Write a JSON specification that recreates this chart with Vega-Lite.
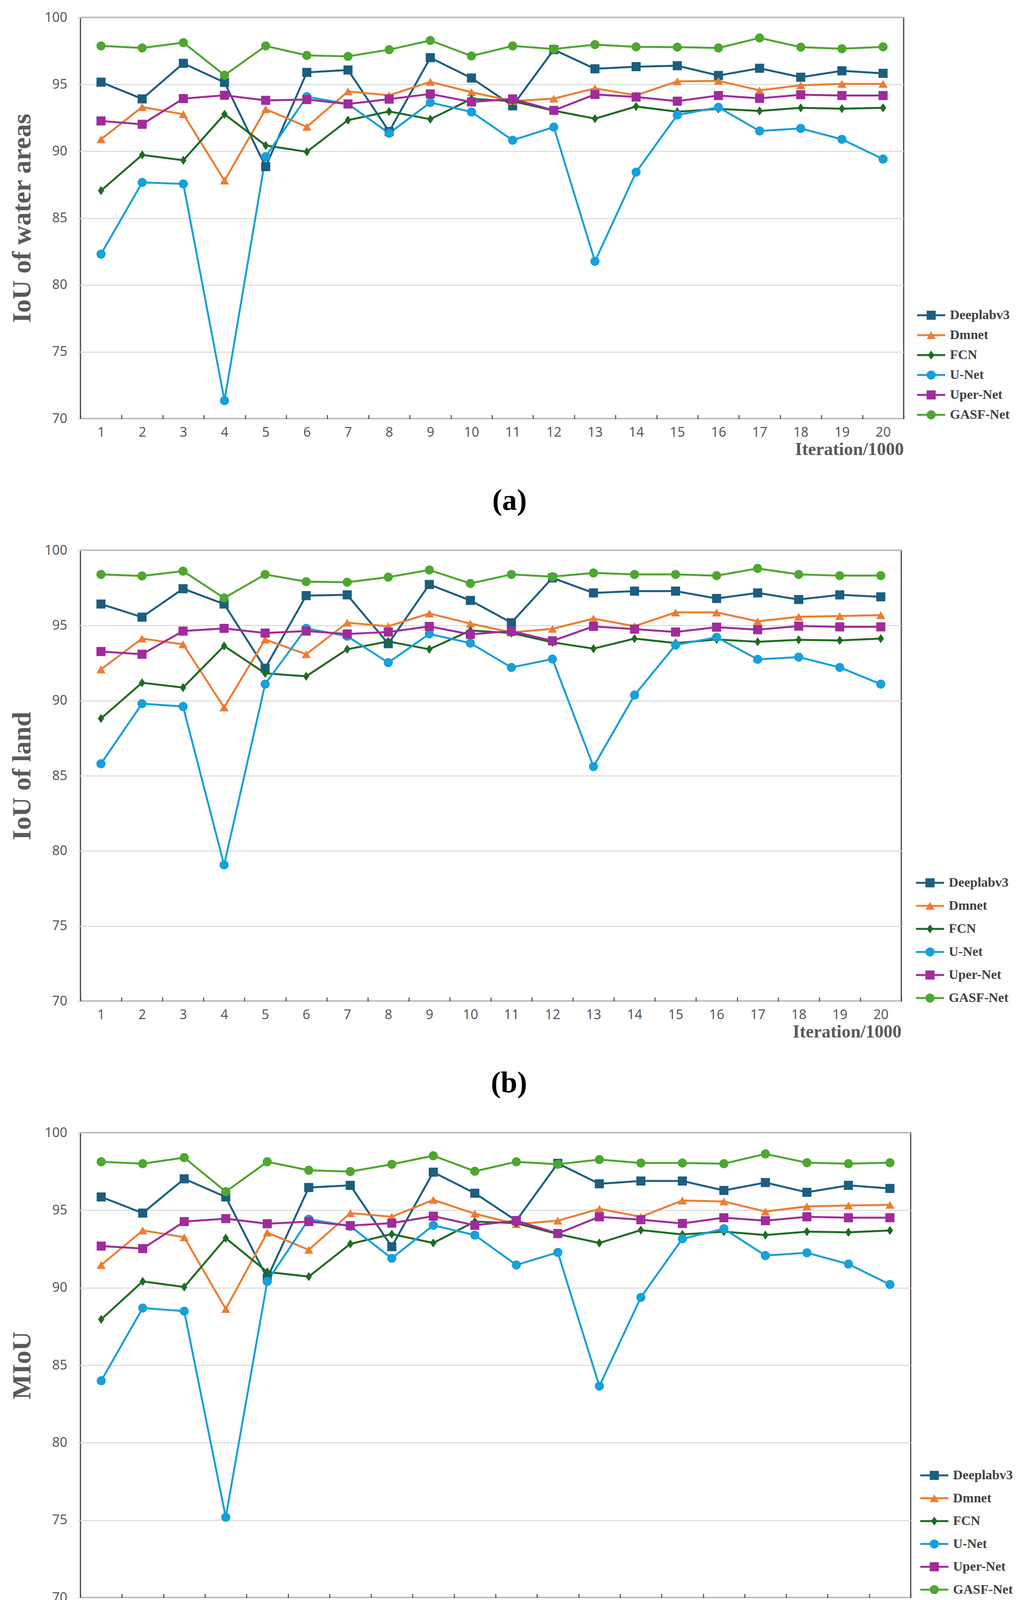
{
  "$schema": "https://vega.github.io/schema/vega-lite/v6.json",
  "background": "white",
  "padding": {"left": 22, "top": 26, "right": 10, "bottom": 10},
  "spacing": 68,
  "resolve": {
    "scale": {"color": "independent", "shape": "independent", "stroke": "independent"},
    "legend": {"color": "independent", "shape": "independent", "stroke": "independent"}
  },
  "datasets": {
    "a": [
      {"m":"Deeplabv3","i":1,"v":95.17},{"m":"Deeplabv3","i":2,"v":93.92},{"m":"Deeplabv3","i":3,"v":96.58},{"m":"Deeplabv3","i":4,"v":95.15},{"m":"Deeplabv3","i":5,"v":88.85},
      {"m":"Deeplabv3","i":6,"v":95.90},{"m":"Deeplabv3","i":7,"v":96.08},{"m":"Deeplabv3","i":8,"v":91.48},{"m":"Deeplabv3","i":9,"v":97.00},{"m":"Deeplabv3","i":10,"v":95.48},
      {"m":"Deeplabv3","i":11,"v":93.40},{"m":"Deeplabv3","i":12,"v":97.60},{"m":"Deeplabv3","i":13,"v":96.17},{"m":"Deeplabv3","i":14,"v":96.33},{"m":"Deeplabv3","i":15,"v":96.40},
      {"m":"Deeplabv3","i":16,"v":95.67},{"m":"Deeplabv3","i":17,"v":96.21},{"m":"Deeplabv3","i":18,"v":95.54},{"m":"Deeplabv3","i":19,"v":96.02},{"m":"Deeplabv3","i":20,"v":95.83},
      {"m":"Dmnet","i":1,"v":90.90},{"m":"Dmnet","i":2,"v":93.31},{"m":"Dmnet","i":3,"v":92.77},{"m":"Dmnet","i":4,"v":87.81},{"m":"Dmnet","i":5,"v":93.15},
      {"m":"Dmnet","i":6,"v":91.83},{"m":"Dmnet","i":7,"v":94.48},{"m":"Dmnet","i":8,"v":94.19},{"m":"Dmnet","i":9,"v":95.19},{"m":"Dmnet","i":10,"v":94.42},
      {"m":"Dmnet","i":11,"v":93.75},{"m":"Dmnet","i":12,"v":93.94},{"m":"Dmnet","i":13,"v":94.71},{"m":"Dmnet","i":14,"v":94.19},{"m":"Dmnet","i":15,"v":95.23},
      {"m":"Dmnet","i":16,"v":95.27},{"m":"Dmnet","i":17,"v":94.56},{"m":"Dmnet","i":18,"v":94.94},{"m":"Dmnet","i":19,"v":95.04},{"m":"Dmnet","i":20,"v":95.04},
      {"m":"FCN","i":1,"v":87.06},{"m":"FCN","i":2,"v":89.73},{"m":"FCN","i":3,"v":89.33},{"m":"FCN","i":4,"v":92.77},{"m":"FCN","i":5,"v":90.44},
      {"m":"FCN","i":6,"v":89.96},{"m":"FCN","i":7,"v":92.33},{"m":"FCN","i":8,"v":92.98},{"m":"FCN","i":9,"v":92.40},{"m":"FCN","i":10,"v":93.92},
      {"m":"FCN","i":11,"v":93.75},{"m":"FCN","i":12,"v":93.04},{"m":"FCN","i":13,"v":92.44},{"m":"FCN","i":14,"v":93.35},{"m":"FCN","i":15,"v":92.96},
      {"m":"FCN","i":16,"v":93.17},{"m":"FCN","i":17,"v":93.02},{"m":"FCN","i":18,"v":93.25},{"m":"FCN","i":19,"v":93.19},{"m":"FCN","i":20,"v":93.25},
      {"m":"U-Net","i":1,"v":82.31},{"m":"U-Net","i":2,"v":87.67},{"m":"U-Net","i":3,"v":87.56},{"m":"U-Net","i":4,"v":71.36},{"m":"U-Net","i":5,"v":89.60},
      {"m":"U-Net","i":6,"v":94.08},{"m":"U-Net","i":7,"v":93.54},{"m":"U-Net","i":8,"v":91.35},{"m":"U-Net","i":9,"v":93.65},{"m":"U-Net","i":10,"v":92.94},
      {"m":"U-Net","i":11,"v":90.83},{"m":"U-Net","i":12,"v":91.81},{"m":"U-Net","i":13,"v":81.77},{"m":"U-Net","i":14,"v":88.44},{"m":"U-Net","i":15,"v":92.71},
      {"m":"U-Net","i":16,"v":93.29},{"m":"U-Net","i":17,"v":91.52},{"m":"U-Net","i":18,"v":91.71},{"m":"U-Net","i":19,"v":90.90},{"m":"U-Net","i":20,"v":89.42},
      {"m":"Uper-Net","i":1,"v":92.27},{"m":"Uper-Net","i":2,"v":92.02},{"m":"Uper-Net","i":3,"v":93.94},{"m":"Uper-Net","i":4,"v":94.19},{"m":"Uper-Net","i":5,"v":93.81},
      {"m":"Uper-Net","i":6,"v":93.87},{"m":"Uper-Net","i":7,"v":93.54},{"m":"Uper-Net","i":8,"v":93.90},{"m":"Uper-Net","i":9,"v":94.29},{"m":"Uper-Net","i":10,"v":93.69},
      {"m":"Uper-Net","i":11,"v":93.92},{"m":"Uper-Net","i":12,"v":93.06},{"m":"Uper-Net","i":13,"v":94.25},{"m":"Uper-Net","i":14,"v":94.06},{"m":"Uper-Net","i":15,"v":93.75},
      {"m":"Uper-Net","i":16,"v":94.17},{"m":"Uper-Net","i":17,"v":93.96},{"m":"Uper-Net","i":18,"v":94.23},{"m":"Uper-Net","i":19,"v":94.17},{"m":"Uper-Net","i":20,"v":94.17},
      {"m":"GASF-Net","i":1,"v":97.88},{"m":"GASF-Net","i":2,"v":97.73},{"m":"GASF-Net","i":3,"v":98.13},{"m":"GASF-Net","i":4,"v":95.69},{"m":"GASF-Net","i":5,"v":97.88},
      {"m":"GASF-Net","i":6,"v":97.17},{"m":"GASF-Net","i":7,"v":97.10},{"m":"GASF-Net","i":8,"v":97.60},{"m":"GASF-Net","i":9,"v":98.29},{"m":"GASF-Net","i":10,"v":97.13},
      {"m":"GASF-Net","i":11,"v":97.88},{"m":"GASF-Net","i":12,"v":97.65},{"m":"GASF-Net","i":13,"v":97.98},{"m":"GASF-Net","i":14,"v":97.81},{"m":"GASF-Net","i":15,"v":97.79},
      {"m":"GASF-Net","i":16,"v":97.73},{"m":"GASF-Net","i":17,"v":98.48},{"m":"GASF-Net","i":18,"v":97.79},{"m":"GASF-Net","i":19,"v":97.67},{"m":"GASF-Net","i":20,"v":97.81}
    ],
    "b": [
      {"m":"Deeplabv3","i":1,"v":96.43},{"m":"Deeplabv3","i":2,"v":95.56},{"m":"Deeplabv3","i":3,"v":97.45},{"m":"Deeplabv3","i":4,"v":96.43},{"m":"Deeplabv3","i":5,"v":92.16},
      {"m":"Deeplabv3","i":6,"v":96.99},{"m":"Deeplabv3","i":7,"v":97.04},{"m":"Deeplabv3","i":8,"v":93.79},{"m":"Deeplabv3","i":9,"v":97.73},{"m":"Deeplabv3","i":10,"v":96.67},
      {"m":"Deeplabv3","i":11,"v":95.19},{"m":"Deeplabv3","i":12,"v":98.17},{"m":"Deeplabv3","i":13,"v":97.17},{"m":"Deeplabv3","i":14,"v":97.29},{"m":"Deeplabv3","i":15,"v":97.29},
      {"m":"Deeplabv3","i":16,"v":96.80},{"m":"Deeplabv3","i":17,"v":97.17},{"m":"Deeplabv3","i":18,"v":96.73},{"m":"Deeplabv3","i":19,"v":97.04},{"m":"Deeplabv3","i":20,"v":96.91},
      {"m":"Dmnet","i":1,"v":92.08},{"m":"Dmnet","i":2,"v":94.13},{"m":"Dmnet","i":3,"v":93.75},{"m":"Dmnet","i":4,"v":89.55},{"m":"Dmnet","i":5,"v":94.07},
      {"m":"Dmnet","i":6,"v":93.09},{"m":"Dmnet","i":7,"v":95.19},{"m":"Dmnet","i":8,"v":94.95},{"m":"Dmnet","i":9,"v":95.80},{"m":"Dmnet","i":10,"v":95.13},
      {"m":"Dmnet","i":11,"v":94.54},{"m":"Dmnet","i":12,"v":94.78},{"m":"Dmnet","i":13,"v":95.46},{"m":"Dmnet","i":14,"v":94.96},{"m":"Dmnet","i":15,"v":95.87},
      {"m":"Dmnet","i":16,"v":95.87},{"m":"Dmnet","i":17,"v":95.28},{"m":"Dmnet","i":18,"v":95.58},{"m":"Dmnet","i":19,"v":95.63},{"m":"Dmnet","i":20,"v":95.69},
      {"m":"FCN","i":1,"v":88.81},{"m":"FCN","i":2,"v":91.19},{"m":"FCN","i":3,"v":90.87},{"m":"FCN","i":4,"v":93.64},{"m":"FCN","i":5,"v":91.82},
      {"m":"FCN","i":6,"v":91.62},{"m":"FCN","i":7,"v":93.42},{"m":"FCN","i":8,"v":93.94},{"m":"FCN","i":9,"v":93.42},{"m":"FCN","i":10,"v":94.67},
      {"m":"FCN","i":11,"v":94.50},{"m":"FCN","i":12,"v":93.88},{"m":"FCN","i":13,"v":93.46},{"m":"FCN","i":14,"v":94.13},{"m":"FCN","i":15,"v":93.83},
      {"m":"FCN","i":16,"v":94.07},{"m":"FCN","i":17,"v":93.92},{"m":"FCN","i":18,"v":94.05},{"m":"FCN","i":19,"v":94.01},{"m":"FCN","i":20,"v":94.13},
      {"m":"U-Net","i":1,"v":85.80},{"m":"U-Net","i":2,"v":89.80},{"m":"U-Net","i":3,"v":89.61},{"m":"U-Net","i":4,"v":79.07},{"m":"U-Net","i":5,"v":91.10},
      {"m":"U-Net","i":6,"v":94.81},{"m":"U-Net","i":7,"v":94.29},{"m":"U-Net","i":8,"v":92.53},{"m":"U-Net","i":9,"v":94.44},{"m":"U-Net","i":10,"v":93.83},
      {"m":"U-Net","i":11,"v":92.21},{"m":"U-Net","i":12,"v":92.77},{"m":"U-Net","i":13,"v":85.61},{"m":"U-Net","i":14,"v":90.37},{"m":"U-Net","i":15,"v":93.70},
      {"m":"U-Net","i":16,"v":94.22},{"m":"U-Net","i":17,"v":92.75},{"m":"U-Net","i":18,"v":92.90},{"m":"U-Net","i":19,"v":92.21},{"m":"U-Net","i":20,"v":91.10},
      {"m":"Uper-Net","i":1,"v":93.27},{"m":"Uper-Net","i":2,"v":93.09},{"m":"Uper-Net","i":3,"v":94.63},{"m":"Uper-Net","i":4,"v":94.81},{"m":"Uper-Net","i":5,"v":94.50},
      {"m":"Uper-Net","i":6,"v":94.63},{"m":"Uper-Net","i":7,"v":94.44},{"m":"Uper-Net","i":8,"v":94.57},{"m":"Uper-Net","i":9,"v":94.94},{"m":"Uper-Net","i":10,"v":94.41},
      {"m":"Uper-Net","i":11,"v":94.63},{"m":"Uper-Net","i":12,"v":93.98},{"m":"Uper-Net","i":13,"v":94.94},{"m":"Uper-Net","i":14,"v":94.76},{"m":"Uper-Net","i":15,"v":94.57},
      {"m":"Uper-Net","i":16,"v":94.89},{"m":"Uper-Net","i":17,"v":94.72},{"m":"Uper-Net","i":18,"v":94.96},{"m":"Uper-Net","i":19,"v":94.91},{"m":"Uper-Net","i":20,"v":94.91},
      {"m":"GASF-Net","i":1,"v":98.40},{"m":"GASF-Net","i":2,"v":98.30},{"m":"GASF-Net","i":3,"v":98.62},{"m":"GASF-Net","i":4,"v":96.83},{"m":"GASF-Net","i":5,"v":98.40},
      {"m":"GASF-Net","i":6,"v":97.92},{"m":"GASF-Net","i":7,"v":97.88},{"m":"GASF-Net","i":8,"v":98.22},{"m":"GASF-Net","i":9,"v":98.70},{"m":"GASF-Net","i":10,"v":97.80},
      {"m":"GASF-Net","i":11,"v":98.40},{"m":"GASF-Net","i":12,"v":98.25},{"m":"GASF-Net","i":13,"v":98.50},{"m":"GASF-Net","i":14,"v":98.40},{"m":"GASF-Net","i":15,"v":98.40},
      {"m":"GASF-Net","i":16,"v":98.32},{"m":"GASF-Net","i":17,"v":98.80},{"m":"GASF-Net","i":18,"v":98.40},{"m":"GASF-Net","i":19,"v":98.32},{"m":"GASF-Net","i":20,"v":98.32}
    ],
    "c": [
      {"m":"Deeplabv3","i":1,"v":95.86},{"m":"Deeplabv3","i":2,"v":94.82},{"m":"Deeplabv3","i":3,"v":97.03},{"m":"Deeplabv3","i":4,"v":95.86},{"m":"Deeplabv3","i":5,"v":90.62},
      {"m":"Deeplabv3","i":6,"v":96.47},{"m":"Deeplabv3","i":7,"v":96.61},{"m":"Deeplabv3","i":8,"v":92.65},{"m":"Deeplabv3","i":9,"v":97.46},{"m":"Deeplabv3","i":10,"v":96.10},
      {"m":"Deeplabv3","i":11,"v":94.33},{"m":"Deeplabv3","i":12,"v":98.03},{"m":"Deeplabv3","i":13,"v":96.71},{"m":"Deeplabv3","i":14,"v":96.89},{"m":"Deeplabv3","i":15,"v":96.89},
      {"m":"Deeplabv3","i":16,"v":96.28},{"m":"Deeplabv3","i":17,"v":96.79},{"m":"Deeplabv3","i":18,"v":96.16},{"m":"Deeplabv3","i":19,"v":96.61},{"m":"Deeplabv3","i":20,"v":96.41},
      {"m":"Dmnet","i":1,"v":91.47},{"m":"Dmnet","i":2,"v":93.70},{"m":"Dmnet","i":3,"v":93.26},{"m":"Dmnet","i":4,"v":88.63},{"m":"Dmnet","i":5,"v":93.56},
      {"m":"Dmnet","i":6,"v":92.45},{"m":"Dmnet","i":7,"v":94.82},{"m":"Dmnet","i":8,"v":94.58},{"m":"Dmnet","i":9,"v":95.67},{"m":"Dmnet","i":10,"v":94.78},
      {"m":"Dmnet","i":11,"v":94.11},{"m":"Dmnet","i":12,"v":94.33},{"m":"Dmnet","i":13,"v":95.09},{"m":"Dmnet","i":14,"v":94.58},{"m":"Dmnet","i":15,"v":95.63},
      {"m":"Dmnet","i":16,"v":95.57},{"m":"Dmnet","i":17,"v":94.92},{"m":"Dmnet","i":18,"v":95.25},{"m":"Dmnet","i":19,"v":95.31},{"m":"Dmnet","i":20,"v":95.35},
      {"m":"FCN","i":1,"v":87.96},{"m":"FCN","i":2,"v":90.41},{"m":"FCN","i":3,"v":90.05},{"m":"FCN","i":4,"v":93.20},{"m":"FCN","i":5,"v":91.02},
      {"m":"FCN","i":6,"v":90.72},{"m":"FCN","i":7,"v":92.83},{"m":"FCN","i":8,"v":93.46},{"m":"FCN","i":9,"v":92.89},{"m":"FCN","i":10,"v":94.27},
      {"m":"FCN","i":11,"v":94.17},{"m":"FCN","i":12,"v":93.46},{"m":"FCN","i":13,"v":92.89},{"m":"FCN","i":14,"v":93.72},{"m":"FCN","i":15,"v":93.44},
      {"m":"FCN","i":16,"v":93.62},{"m":"FCN","i":17,"v":93.40},{"m":"FCN","i":18,"v":93.62},{"m":"FCN","i":19,"v":93.58},{"m":"FCN","i":20,"v":93.70},
      {"m":"U-Net","i":1,"v":84.00},{"m":"U-Net","i":2,"v":88.69},{"m":"U-Net","i":3,"v":88.49},{"m":"U-Net","i":4,"v":75.19},{"m":"U-Net","i":5,"v":90.41},
      {"m":"U-Net","i":6,"v":94.42},{"m":"U-Net","i":7,"v":93.97},{"m":"U-Net","i":8,"v":91.90},{"m":"U-Net","i":9,"v":94.03},{"m":"U-Net","i":10,"v":93.40},
      {"m":"U-Net","i":11,"v":91.47},{"m":"U-Net","i":12,"v":92.28},{"m":"U-Net","i":13,"v":83.65},{"m":"U-Net","i":14,"v":89.38},{"m":"U-Net","i":15,"v":93.16},
      {"m":"U-Net","i":16,"v":93.81},{"m":"U-Net","i":17,"v":92.08},{"m":"U-Net","i":18,"v":92.26},{"m":"U-Net","i":19,"v":91.53},{"m":"U-Net","i":20,"v":90.21},
      {"m":"Uper-Net","i":1,"v":92.69},{"m":"Uper-Net","i":2,"v":92.53},{"m":"Uper-Net","i":3,"v":94.27},{"m":"Uper-Net","i":4,"v":94.46},{"m":"Uper-Net","i":5,"v":94.13},
      {"m":"Uper-Net","i":6,"v":94.27},{"m":"Uper-Net","i":7,"v":94.01},{"m":"Uper-Net","i":8,"v":94.17},{"m":"Uper-Net","i":9,"v":94.62},{"m":"Uper-Net","i":10,"v":94.03},
      {"m":"Uper-Net","i":11,"v":94.33},{"m":"Uper-Net","i":12,"v":93.50},{"m":"Uper-Net","i":13,"v":94.58},{"m":"Uper-Net","i":14,"v":94.39},{"m":"Uper-Net","i":15,"v":94.15},
      {"m":"Uper-Net","i":16,"v":94.52},{"m":"Uper-Net","i":17,"v":94.33},{"m":"Uper-Net","i":18,"v":94.58},{"m":"Uper-Net","i":19,"v":94.52},{"m":"Uper-Net","i":20,"v":94.52},
      {"m":"GASF-Net","i":1,"v":98.13},{"m":"GASF-Net","i":2,"v":98.01},{"m":"GASF-Net","i":3,"v":98.40},{"m":"GASF-Net","i":4,"v":96.20},{"m":"GASF-Net","i":5,"v":98.13},
      {"m":"GASF-Net","i":6,"v":97.58},{"m":"GASF-Net","i":7,"v":97.50},{"m":"GASF-Net","i":8,"v":97.97},{"m":"GASF-Net","i":9,"v":98.52},{"m":"GASF-Net","i":10,"v":97.52},
      {"m":"GASF-Net","i":11,"v":98.13},{"m":"GASF-Net","i":12,"v":97.97},{"m":"GASF-Net","i":13,"v":98.27},{"m":"GASF-Net","i":14,"v":98.05},{"m":"GASF-Net","i":15,"v":98.05},
      {"m":"GASF-Net","i":16,"v":98.01},{"m":"GASF-Net","i":17,"v":98.64},{"m":"GASF-Net","i":18,"v":98.07},{"m":"GASF-Net","i":19,"v":98.01},{"m":"GASF-Net","i":20,"v":98.07}
    ]
  },
  "vconcat": [
    {
      "data": {"name": "a"},
      "width": 2108,
      "height": 1027,
      "title": {"text": "(a)", "orient": "bottom", "anchor": "middle", "frame": "bounds", "offset": 72, "font": "Liberation Serif", "fontSize": 76, "fontWeight": "bold", "color": "#000000"},
      "encoding": {
        "x": {"field": "i", "type": "ordinal", "bandPosition": 0.5, "scale": {"type": "band", "paddingInner": 0, "paddingOuter": 0}, "axis": {"title": "Iteration/1000"}},
        "y": {"field": "v", "type": "quantitative", "scale": {"domain": [70, 100]}, "axis": {"title": "IoU of water areas", "values": [70, 75, 80, 85, 90, 95, 100]}}
      },
      "layer": [
        {
          "mark": {"type": "line", "strokeWidth": 5},
          "encoding": {
            "stroke": {"field": "m", "type": "nominal", "sort": ["Deeplabv3", "Dmnet", "FCN", "U-Net", "Uper-Net", "GASF-Net"], "scale": {"range": ["#1b5e80", "#ed7d31", "#1f6b21", "#17a0da", "#a12a9c", "#4ea72e"]},
              "legend": {"title": null, "orient": "none", "legendX": 2142, "legendY": 745, "symbolType": "M-3,0H3", "symbolSize": 576, "symbolStrokeWidth": 5, "symbolOffset": 19.5, "labelOffset": 31, "rowPadding": 17}}
          }
        },
        {
          "mark": {"type": "point", "filled": true, "opacity": 1, "size": 540, "strokeWidth": 0},
          "encoding": {
            "color": {"field": "m", "type": "nominal", "scale": {"domain": ["Deeplabv3", "Dmnet", "FCN", "U-Net", "Uper-Net", "GASF-Net"], "range": ["#1b5e80", "#ed7d31", "#1f6b21", "#17a0da", "#a12a9c", "#4ea72e"]},
              "legend": {"title": null, "orient": "none", "legendX": 2142, "legendY": 745, "symbolSize": 540, "symbolStrokeWidth": 0, "symbolOffset": 19.5, "labelExpr": "' '", "rowPadding": 17}},
            "shape": {"field": "m", "type": "nominal", "scale": {"domain": ["Deeplabv3", "Dmnet", "FCN", "U-Net", "Uper-Net", "GASF-Net"], "range": ["square", "triangle-up", "M0,-1L0.7,0L0,1L-0.7,0Z", "circle", "square", "circle"]},
              "legend": {"title": null, "orient": "none", "legendX": 2142, "legendY": 745, "symbolSize": 540, "symbolStrokeWidth": 0, "symbolOffset": 19.5, "labelExpr": "' '", "rowPadding": 17}}
          }
        }
      ]
    },
    {
      "data": {"name": "b"},
      "width": 2102,
      "height": 1154,
      "title": {"text": "(b)", "orient": "bottom", "anchor": "middle", "frame": "bounds", "offset": 72, "font": "Liberation Serif", "fontSize": 76, "fontWeight": "bold", "color": "#000000"},
      "encoding": {
        "x": {"field": "i", "type": "ordinal", "bandPosition": 0.5, "scale": {"type": "band", "paddingInner": 0, "paddingOuter": 0}, "axis": {"title": "Iteration/1000"}},
        "y": {"field": "v", "type": "quantitative", "scale": {"domain": [70, 100]}, "axis": {"title": "IoU of land", "values": [70, 75, 80, 85, 90, 95, 100]}}
      },
      "layer": [
        {
          "mark": {"type": "line", "strokeWidth": 5},
          "encoding": {
            "stroke": {"field": "m", "type": "nominal", "sort": ["Deeplabv3", "Dmnet", "FCN", "U-Net", "Uper-Net", "GASF-Net"], "scale": {"range": ["#1b5e80", "#ed7d31", "#1f6b21", "#17a0da", "#a12a9c", "#4ea72e"]},
              "legend": {"title": null, "orient": "none", "legendX": 2139, "legendY": 834, "symbolType": "M-3,0H3", "symbolSize": 576, "symbolStrokeWidth": 5, "symbolOffset": 19.5, "labelOffset": 31, "rowPadding": 25}}
          }
        },
        {
          "mark": {"type": "point", "filled": true, "opacity": 1, "size": 540, "strokeWidth": 0},
          "encoding": {
            "color": {"field": "m", "type": "nominal", "scale": {"domain": ["Deeplabv3", "Dmnet", "FCN", "U-Net", "Uper-Net", "GASF-Net"], "range": ["#1b5e80", "#ed7d31", "#1f6b21", "#17a0da", "#a12a9c", "#4ea72e"]},
              "legend": {"title": null, "orient": "none", "legendX": 2139, "legendY": 834, "symbolSize": 540, "symbolStrokeWidth": 0, "symbolOffset": 19.5, "labelExpr": "' '", "rowPadding": 25}},
            "shape": {"field": "m", "type": "nominal", "scale": {"domain": ["Deeplabv3", "Dmnet", "FCN", "U-Net", "Uper-Net", "GASF-Net"], "range": ["square", "triangle-up", "M0,-1L0.7,0L0,1L-0.7,0Z", "circle", "square", "circle"]},
              "legend": {"title": null, "orient": "none", "legendX": 2139, "legendY": 834, "symbolSize": 540, "symbolStrokeWidth": 0, "symbolOffset": 19.5, "labelExpr": "' '", "rowPadding": 25}}
          }
        }
      ]
    },
    {
      "data": {"name": "c"},
      "width": 2126,
      "height": 1190,
      "title": {"text": "(c)", "orient": "bottom", "anchor": "middle", "frame": "bounds", "offset": 72, "font": "Liberation Serif", "fontSize": 76, "fontWeight": "bold", "color": "#000000"},
      "encoding": {
        "x": {"field": "i", "type": "ordinal", "bandPosition": 0.5, "scale": {"type": "band", "paddingInner": 0, "paddingOuter": 0}, "axis": {"title": "Iteration/1000"}},
        "y": {"field": "v", "type": "quantitative", "scale": {"domain": [70, 100]}, "axis": {"title": "MIoU", "values": [70, 75, 80, 85, 90, 95, 100]}}
      },
      "layer": [
        {
          "mark": {"type": "line", "strokeWidth": 5},
          "encoding": {
            "stroke": {"field": "m", "type": "nominal", "sort": ["Deeplabv3", "Dmnet", "FCN", "U-Net", "Uper-Net", "GASF-Net"], "scale": {"range": ["#1b5e80", "#ed7d31", "#1f6b21", "#17a0da", "#a12a9c", "#4ea72e"]},
              "legend": {"title": null, "orient": "none", "legendX": 2150, "legendY": 860, "symbolType": "M-3,0H3", "symbolSize": 576, "symbolStrokeWidth": 5, "symbolOffset": 19.5, "labelOffset": 31, "rowPadding": 24.5}}
          }
        },
        {
          "mark": {"type": "point", "filled": true, "opacity": 1, "size": 540, "strokeWidth": 0},
          "encoding": {
            "color": {"field": "m", "type": "nominal", "scale": {"domain": ["Deeplabv3", "Dmnet", "FCN", "U-Net", "Uper-Net", "GASF-Net"], "range": ["#1b5e80", "#ed7d31", "#1f6b21", "#17a0da", "#a12a9c", "#4ea72e"]},
              "legend": {"title": null, "orient": "none", "legendX": 2150, "legendY": 860, "symbolSize": 540, "symbolStrokeWidth": 0, "symbolOffset": 19.5, "labelExpr": "' '", "rowPadding": 24.5}},
            "shape": {"field": "m", "type": "nominal", "scale": {"domain": ["Deeplabv3", "Dmnet", "FCN", "U-Net", "Uper-Net", "GASF-Net"], "range": ["square", "triangle-up", "M0,-1L0.7,0L0,1L-0.7,0Z", "circle", "square", "circle"]},
              "legend": {"title": null, "orient": "none", "legendX": 2150, "legendY": 860, "symbolSize": 540, "symbolStrokeWidth": 0, "symbolOffset": 19.5, "labelExpr": "' '", "rowPadding": 24.5}}
          }
        }
      ]
    }
  ],
  "config": {
    "view": {"stroke": "#404040", "strokeWidth": 3},
    "axis": {
      "labelFont": "Noto Sans",
      "labelFontSize": 34,
      "labelColor": "#595959",
      "titleFont": "Liberation Serif",
      "titleFontWeight": "bold",
      "titleColor": "#595959",
      "domain": false,
      "gridColor": "#d9d9d9",
      "gridWidth": 2.5
    },
    "axisX": {"grid": false, "labelAngle": 0, "tickBand": "extent", "tickColor": "#404040", "tickWidth": 2.5, "tickSize": -10, "labelPadding": 28, "titleFontSize": 46, "titleAnchor": "end", "titlePadding": 4},
    "axisY": {"tickColor": "#d9d9d9", "tickWidth": 2.5, "tickSize": 8, "labelPadding": 26, "titleFontSize": 68, "titlePadding": 22},
    "legend": {"labelFont": "Liberation Serif", "labelFontWeight": "bold", "labelFontSize": 34, "labelColor": "#404040", "padding": 0, "labelOffset": 6},
    "title": {"font": "Liberation Serif", "fontSize": 76, "fontWeight": "bold", "color": "#000000"}
  }
}
